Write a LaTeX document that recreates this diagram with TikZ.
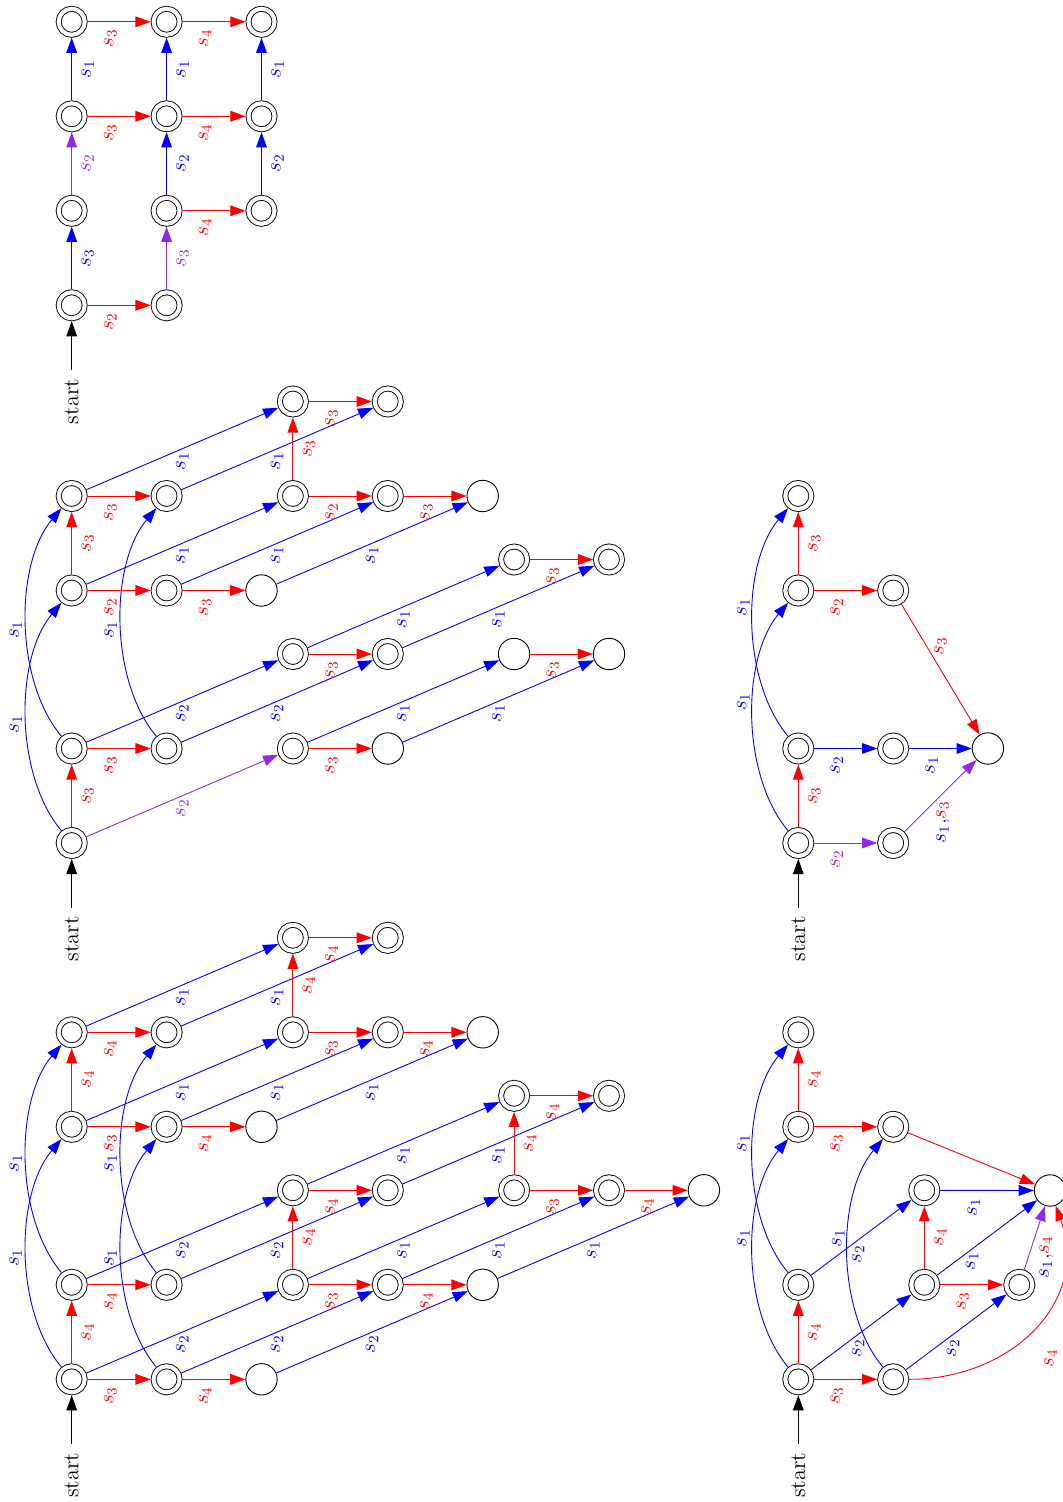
\documentclass[tikz,border=0pt]{standalone}
\usetikzlibrary{arrows.meta}
\definecolor{pur}{RGB}{145,40,240}
\begin{document}
\begin{tikzpicture}[x=0.5606pt,y=0.5606pt,
  pl/.style={circle,draw,line width=0.5pt,minimum size=17.6pt,inner sep=0pt},
  ac/.style={circle,draw,line width=0.5pt,double,double distance=2.3pt,minimum size=14.6pt,inner sep=0pt,outer sep=1.65pt},
  e/.style={-{Triangle[length=8.5pt,width=6pt]},line width=0.5pt},
  lb/.style={inner sep=0pt,anchor=center,font=\large},
  lh/.style={lb,pos=0.36,yshift=-9.25pt,rotate=90},
  lv/.style={lb,midway,xshift=9pt,rotate=90},
  ld/.style={lb,midway,yshift=-6.9pt,rotate=90},
  ldf/.style={lb,midway,xshift=-1.7pt,yshift=-9.25pt,rotate=90},
  lca/.style={lb,midway,xshift=-5.9pt,yshift=-2.6pt,rotate=90},
  lcb/.style={lb,midway,xshift=-5.9pt,yshift=-4.2pt,rotate=90},
  lcc/.style={lb,midway,xshift=-5.3pt,yshift=8.4pt,rotate=90},
  lx/.style 2 args={lb,midway,xshift=#1,yshift=#2,rotate=90},
  cv/.style={bend left=40,looseness=0.82},
  stt/.style={font=\fontsize{12.5}{15}\selectfont,inner sep=0pt,outer sep=5pt,rotate=90},
]
\useasboundingbox (0,0) rectangle (1062,-1502);

% ================= Diagram 4 (top left)
\node[ac] (dA) at (71.7,-305.3) {};
\node[ac] (dB) at (166.6,-305.3) {};
\node[ac] (dC) at (71.7,-210.8) {};
\node[ac] (dD) at (71.7,-116.3) {};
\node[ac] (dE) at (71.7,-21.8) {};
\node[ac] (dF) at (166.6,-210.8) {};
\node[ac] (dG) at (166.6,-116.3) {};
\node[ac] (dH) at (166.6,-21.8) {};
\node[ac] (dI) at (261.5,-210.8) {};
\node[ac] (dJ) at (261.5,-116.3) {};
\node[ac] (dK) at (261.5,-21.8) {};
\node[stt] (dS) at (71.7,-401.5) {start};
\draw[e] (dS) -- (dA);
\draw[e,red] (dA) -- node[lh]{$s_2$} (dB);
\draw[e,blue] (dA) -- node[lv]{$s_3$} (dC);
\draw[e,pur] (dC) -- node[lv]{$s_2$} (dD);
\draw[e,blue] (dD) -- node[lv]{$s_1$} (dE);
\draw[e,red] (dD) -- node[lh]{$s_3$} (dG);
\draw[e,red] (dE) -- node[lh]{$s_3$} (dH);
\draw[e,pur] (dB) -- node[lv]{$s_3$} (dF);
\draw[e,blue] (dF) -- node[lv]{$s_2$} (dG);
\draw[e,blue] (dG) -- node[lv]{$s_1$} (dH);
\draw[e,red] (dF) -- node[lh]{$s_4$} (dI);
\draw[e,red] (dG) -- node[lh]{$s_4$} (dJ);
\draw[e,red] (dH) -- node[lh]{$s_4$} (dK);
\draw[e,blue] (dI) -- node[lv]{$s_2$} (dJ);
\draw[e,blue] (dJ) -- node[lv]{$s_1$} (dK);

% ================= Diagram 2 (middle left)
\node[ac] (bn0) at (71.7,-843) {};
\node[ac] (bn1) at (71.7,-748.5) {};
\node[ac] (bn2) at (71.7,-590.5) {};
\node[ac] (bn3) at (71.7,-496) {};
\node[ac] (bm1) at (166.6,-748.5) {};
\node[ac] (bm2) at (166.6,-590.5) {};
\node[ac] (bm3) at (166.6,-496) {};
\node[pl] (bp2) at (261.5,-590.5) {};
\node[ac] (bn0p) at (292.9,-748.5) {};
\node[ac] (bn1p) at (292.9,-654) {};
\node[ac] (bn2p) at (292.9,-496) {};
\node[ac] (bn3p) at (292.9,-401.5) {};
\node[pl] (bm0p) at (387.8,-748.5) {};
\node[ac] (bm1p) at (387.8,-654) {};
\node[ac] (bm2p) at (387.8,-496) {};
\node[ac] (bm3p) at (387.8,-401.5) {};
\node[pl] (bp2p) at (482.7,-496) {};
\node[pl] (bn0pp) at (514.1,-654) {};
\node[ac] (bn1pp) at (514.1,-559.5) {};
\node[pl] (bm0pp) at (609,-654) {};
\node[ac] (bm1pp) at (609,-559.5) {};
\node[stt] (bS) at (71.7,-939) {start};
\draw[e] (bS) -- (bn0);
\draw[e,red] (bn0) -- node[lv]{$s_3$} (bn1);
\draw[e,pur] (bn0) -- node[ld]{$s_2$} (bn0p);
\draw[e,blue] (bn0) to[cv] node[lcb]{$s_1$} (bn2);
\draw[e,blue] (bn1) to[cv] node[lcb]{$s_1$} (bn3);
\draw[e,red] (bn1) -- node[lh]{$s_3$} (bm1);
\draw[e,blue] (bn1) -- node[ld]{$s_2$} (bn1p);
\draw[e,blue] (bm1) to[cv] node[lcb]{$s_1$} (bm3);
\draw[e,blue] (bm1) -- node[ld]{$s_2$} (bm1p);
\draw[e,red] (bn2) -- node[lv]{$s_3$} (bn3);
\draw[e,red] (bn2) -- node[lh]{$s_2$} (bm2);
\draw[e,blue] (bn2) -- node[ld]{$s_1$} (bn2p);
\draw[e,red] (bn3) -- node[lh]{$s_3$} (bm3);
\draw[e,blue] (bn3) -- node[ld]{$s_1$} (bn3p);
\draw[e,red] (bm2) -- node[lh]{$s_3$} (bp2);
\draw[e,blue] (bm2) -- node[ld]{$s_1$} (bm2p);
\draw[e,blue] (bm3) -- node[ld]{$s_1$} (bm3p);
\draw[e,blue] (bp2) -- node[ld]{$s_1$} (bp2p);
\draw[e,red] (bn0p) -- node[lh]{$s_3$} (bm0p);
\draw[e,blue] (bn0p) -- node[ld]{$s_1$} (bn0pp);
\draw[e,blue] (bm0p) -- node[ld]{$s_1$} (bm0pp);
\draw[e,red] (bn1p) -- node[lh]{$s_3$} (bm1p);
\draw[e,blue] (bn1p) -- node[ld]{$s_1$} (bn1pp);
\draw[e,blue] (bm1p) -- node[ld]{$s_1$} (bm1pp);
\draw[e,red] (bn2p) -- node[lv]{$s_3$} (bn3p);
\draw[e,red] (bn2p) -- node[lh]{$s_2$} (bm2p);
\draw[e,red] (bn3p) -- node[lh]{$s_3$} (bm3p);
\draw[e,red] (bm2p) -- node[lh]{$s_3$} (bp2p);
\draw[e,red] (bn0pp) -- node[lh]{$s_3$} (bm0pp);
\draw[e,red] (bn1pp) -- node[lh]{$s_3$} (bm1pp);

% ================= Diagram 1 (bottom left)
\node[ac] (an0) at (71.7,-1379.3) {};
\node[ac] (an1) at (71.7,-1284.8) {};
\node[ac] (an2) at (71.7,-1126.8) {};
\node[ac] (an3) at (71.7,-1032.3) {};
\node[ac] (am0) at (166.6,-1379.3) {};
\node[ac] (am1) at (166.6,-1284.8) {};
\node[ac] (am2) at (166.6,-1126.8) {};
\node[ac] (am3) at (166.6,-1032.3) {};
\node[pl] (ap0) at (261.5,-1379.3) {};
\node[pl] (ap2) at (261.5,-1126.8) {};
\node[ac] (an0p) at (292.9,-1284.8) {};
\node[ac] (an1p) at (292.9,-1190.3) {};
\node[ac] (an2p) at (292.9,-1032.3) {};
\node[ac] (an3p) at (292.9,-937.8) {};
\node[ac] (am0p) at (387.8,-1284.8) {};
\node[ac] (am1p) at (387.8,-1190.3) {};
\node[ac] (am2p) at (387.8,-1032.3) {};
\node[ac] (am3p) at (387.8,-937.8) {};
\node[pl] (ap0p) at (482.7,-1284.8) {};
\node[pl] (ap2p) at (482.7,-1032.3) {};
\node[ac] (an0pp) at (514.1,-1190.3) {};
\node[ac] (an1pp) at (514.1,-1095.8) {};
\node[ac] (am0pp) at (609,-1190.3) {};
\node[ac] (am1pp) at (609,-1095.8) {};
\node[pl] (ap0pp) at (703.9,-1190.3) {};
\node[stt] (aS) at (71.7,-1475.3) {start};
\draw[e] (aS) -- (an0);
\draw[e,red] (an0) -- node[lv]{$s_4$} (an1);
\draw[e,red] (an0) -- node[lh]{$s_3$} (am0);
\draw[e,blue] (an0) to[cv] node[lca]{$s_1$} (an2);
\draw[e,blue] (an0) -- node[ld]{$s_2$} (an0p);
\draw[e,blue] (an1) to[cv] node[lca]{$s_1$} (an3);
\draw[e,red] (an1) -- node[lh]{$s_4$} (am1);
\draw[e,blue] (an1) -- node[ld]{$s_2$} (an1p);
\draw[e,red] (am0) -- node[lh]{$s_4$} (ap0);
\draw[e,blue] (am0) to[cv] node[lca]{$s_1$} (am2);
\draw[e,blue] (am0) -- node[ld]{$s_2$} (am0p);
\draw[e,blue] (am1) to[cv] node[lca]{$s_1$} (am3);
\draw[e,blue] (am1) -- node[ld]{$s_2$} (am1p);
\draw[e,blue] (ap0) -- node[ld]{$s_2$} (ap0p);
\draw[e,red] (an2) -- node[lv]{$s_4$} (an3);
\draw[e,red] (an2) -- node[lh]{$s_3$} (am2);
\draw[e,blue] (an2) -- node[ld]{$s_1$} (an2p);
\draw[e,red] (an3) -- node[lh]{$s_4$} (am3);
\draw[e,blue] (an3) -- node[ld]{$s_1$} (an3p);
\draw[e,red] (am2) -- node[lh]{$s_4$} (ap2);
\draw[e,blue] (am2) -- node[ld]{$s_1$} (am2p);
\draw[e,blue] (am3) -- node[ld]{$s_1$} (am3p);
\draw[e,blue] (ap2) -- node[ld]{$s_1$} (ap2p);
\draw[e,red] (an0p) -- node[lv]{$s_4$} (an1p);
\draw[e,red] (an0p) -- node[lh]{$s_3$} (am0p);
\draw[e,blue] (an0p) -- node[ld]{$s_1$} (an0pp);
\draw[e,red] (an1p) -- node[lh]{$s_4$} (am1p);
\draw[e,blue] (an1p) -- node[ld]{$s_1$} (an1pp);
\draw[e,red] (am0p) -- node[lh]{$s_4$} (ap0p);
\draw[e,blue] (am0p) -- node[ld]{$s_1$} (am0pp);
\draw[e,blue] (am1p) -- node[ld]{$s_1$} (am1pp);
\draw[e,blue] (ap0p) -- node[ld]{$s_1$} (ap0pp);
\draw[e,red] (an2p) -- node[lv]{$s_4$} (an3p);
\draw[e,red] (an2p) -- node[lh]{$s_3$} (am2p);
\draw[e,red] (an3p) -- node[lh]{$s_4$} (am3p);
\draw[e,red] (am2p) -- node[lh]{$s_4$} (ap2p);
\draw[e,red] (an0pp) -- node[lv]{$s_4$} (an1pp);
\draw[e,red] (an0pp) -- node[lh]{$s_3$} (am0pp);
\draw[e,red] (an1pp) -- node[lh]{$s_4$} (am1pp);
\draw[e,red] (am0pp) -- node[lh]{$s_4$} (ap0pp);

% ================= Diagram 3 (middle right)
\node[ac] (c0) at (798.3,-843) {};
\node[ac] (c1) at (798.3,-748.5) {};
\node[ac] (c2) at (798.3,-590.5) {};
\node[ac] (c3) at (798.3,-496) {};
\node[ac] (c4) at (893.2,-843) {};
\node[ac] (c5) at (893.2,-748.5) {};
\node[ac] (c6) at (893.2,-590.5) {};
\node[pl] (c7) at (987.9,-748.5) {};
\node[stt] (cS) at (798.3,-939) {start};
\draw[e] (cS) -- (c0);
\draw[e,red] (c0) -- node[lv]{$s_3$} (c1);
\draw[e,pur] (c0) -- node[lh]{$s_2$} (c4);
\draw[e,blue] (c0) to[cv] node[lcc]{$s_1$} (c2);
\draw[e,blue] (c1) to[cv] node[lcc]{$s_1$} (c3);
\draw[e,blue] (c1) -- node[lh]{$s_2$} (c5);
\draw[e,red] (c2) -- node[lv]{$s_3$} (c3);
\draw[e,red] (c2) -- node[lh]{$s_2$} (c6);
\draw[e,blue] (c5) -- node[lh]{$s_1$} (c7);
\draw[e,red] (c6) -- node[lx={0pt}{13.2pt}]{$s_3$} (c7);
\draw[e,pur] (c4) -- node[lx={1.5pt}{-14.7pt}]{$\textcolor{blue}{s_1,}\textcolor{red}{s_3}$} (c7);

% ================= Diagram 5 (bottom right)
\node[ac] (f0) at (798.3,-1379.3) {};
\node[ac] (f1) at (798.3,-1284.8) {};
\node[ac] (f2) at (798.3,-1126.8) {};
\node[ac] (f3) at (798.3,-1032.3) {};
\node[ac] (f4) at (893.2,-1379.3) {};
\node[ac] (f5) at (893.2,-1126.8) {};
\node[ac] (f6) at (924.3,-1284.8) {};
\node[ac] (f7) at (924.3,-1190.3) {};
\node[ac] (f8) at (1019.3,-1284.8) {};
\node[pl] (f9) at (1050,-1190.5) {};
\node[stt] (fS) at (798.3,-1475.3) {start};
\draw[e] (fS) -- (f0);
\draw[e,red] (f0) -- node[lv]{$s_4$} (f1);
\draw[e,red] (f0) -- node[lh]{$s_3$} (f4);
\draw[e,blue] (f0) -- node[ldf]{$s_2$} (f6);
\draw[e,blue] (f0) to[cv] node[lcc]{$s_1$} (f2);
\draw[e,blue] (f1) to[cv] node[lcc]{$s_1$} (f3);
\draw[e,blue] (f1) -- node[ldf]{$s_2$} (f7);
\draw[e,red] (f2) -- node[lv]{$s_4$} (f3);
\draw[e,red] (f2) -- node[lh]{$s_3$} (f5);
\draw[e,red] (f5) -- (f9);
\draw[e,blue] (f4) to[cv] node[lcc]{$s_1$} (f5);
\draw[e,blue] (f4) -- node[ldf]{$s_2$} (f8);
\draw[e,red] (f4) to[out=0,in=-70,looseness=1.15] node[lb,pos=0.4,xshift=20pt,yshift=-6.8pt,rotate=90]{$s_4$} (f9);
\draw[e,red] (f6) -- node[lv]{$s_4$} (f7);
\draw[e,red] (f6) -- node[lh]{$s_3$} (f8);
\draw[e,blue] (f6) -- node[lx={-8.4pt}{-13.2pt}]{$s_1$} (f9);
\draw[e,blue] (f7) -- node[lh]{$s_1$} (f9);
\draw[e,pur] (f8) -- node[lx={6.6pt}{-10.8pt}]{$\textcolor{blue}{s_1,}\textcolor{red}{s_4}$} (f9);
\end{tikzpicture}
\end{document}
